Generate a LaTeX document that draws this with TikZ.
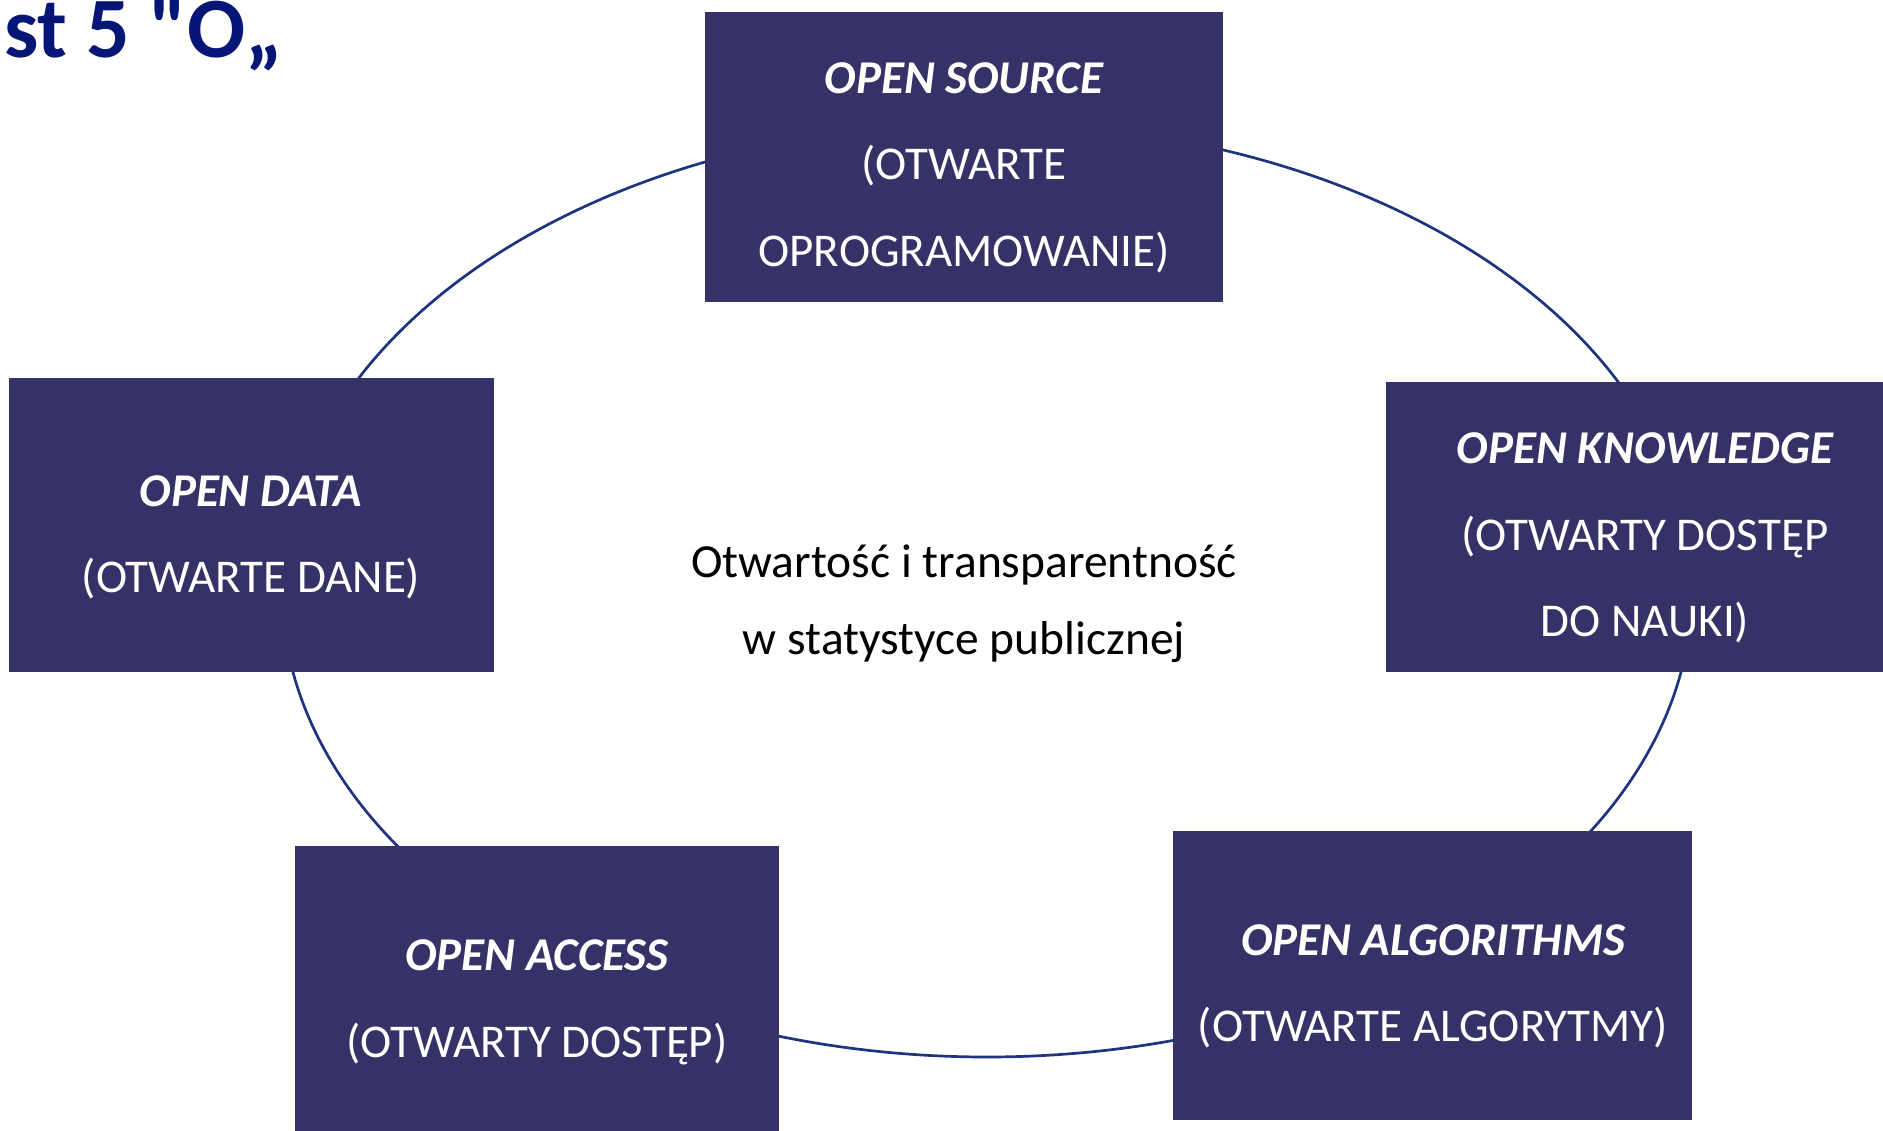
\documentclass[tikz,border=0pt]{standalone}
\usepackage{fontspec}
\setmainfont{Carlito}
\newfontfamily\titlefont{Carlito}
\definecolor{boxc}{RGB}{54,49,102}
\definecolor{titlec}{RGB}{6,22,118}
\definecolor{ringc}{RGB}{31,52,128}
\begin{document}
\begin{tikzpicture}[x=1pt,y=1pt,
  box/.style={fill=boxc, draw=none, inner sep=0pt, anchor=north west},
  lbl/.style={text=white, anchor=base, inner sep=0pt, font=\fontsize{47}{56}\selectfont},
  hd/.style={text=white, anchor=base, inner sep=0pt, font=\fontsize{47}{56}\selectfont\bfseries\itshape},
  ctext/.style={text=black, anchor=base, inner sep=0pt, font=\fontsize{47.5}{56}\selectfont},
  ring/.style={draw=ringc, line width=2.7pt}]
\clip (0,0) rectangle (1883,-1131);
\fill[white] (0,0) rectangle (1883,-1131);
% ellipse centre
\coordinate (C) at (987,-590);
\path (C) ++(110:705pt and 467pt) coordinate (r1);
\path (C) ++(74:705pt and 467pt) coordinate (r2);
\path (C) ++(-6:705pt and 467pt) coordinate (r3);
\path (C) ++(-72:705pt and 467pt) coordinate (r4);
\path (C) ++(-142:705pt and 467pt) coordinate (r5);
\draw[ring] (r1) arc[start angle=110, end angle=156, x radius=705pt, y radius=467pt];
\draw[ring] (r2) arc[start angle=74, end angle=24, x radius=705pt, y radius=467pt];
\draw[ring] (r3) arc[start angle=-6, end angle=-34, x radius=705pt, y radius=467pt];
\draw[ring] (r4) arc[start angle=-72, end angle=-109, x radius=705pt, y radius=467pt];
\draw[ring] (r5) arc[start angle=-142, end angle=-190, x radius=705pt, y radius=467pt];
% boxes
\node[box, minimum width=518pt, minimum height=290pt] (os) at (705,-12) {};
\node[box, minimum width=485pt, minimum height=294pt] (od) at (9,-378) {};
\node[box, minimum width=520pt, minimum height=290pt] (ok) at (1386,-382) {};
\node[box, minimum width=484pt, minimum height=300pt] (oa) at (295,-846) {};
\node[box, minimum width=519pt, minimum height=289pt] (oal) at (1173,-831) {};
% texts
\node[hd] (os1) at (964,-94) {OPEN SOURCE};
\node[lbl] (os2) at (964,-180) {(OTWARTE};
\node[lbl] (os3) at (964,-267) {OPROGRAMOWANIE)};
\node[hd] (od1) at (251,-506) {OPEN DATA};
\node[lbl] (od2) at (251,-592) {(OTWARTE DANE)};
\node[hd] (ok1) at (1645,-464) {OPEN KNOWLEDGE};
\node[lbl] (ok2) at (1645,-550) {(OTWARTY DOSTĘP};
\node[lbl] (ok3) at (1645,-636) {DO NAUKI)};
\node[hd] (oa1) at (537,-970) {OPEN ACCESS};
\node[lbl] (oa2) at (537,-1057) {(OTWARTY DOSTĘP)};
\node[hd] (oal1) at (1433,-955) {OPEN ALGORITHMS};
\node[lbl] (oal2) at (1433,-1041) {(OTWARTE ALGORYTMY)};
\node[ctext] (c1) at (964,-577) {Otwartość i transparentność};
\node[ctext] (c2) at (964,-654) {w statystyce publicznej};
% title
\node[anchor=base west, inner sep=0pt, text height=52pt, text depth=14pt, text=titlec, font=\titlefont\fontsize{86}{96}\selectfont\bfseries] (title) at (4,-58) {st 5 "O„};
\end{tikzpicture}
\end{document}
